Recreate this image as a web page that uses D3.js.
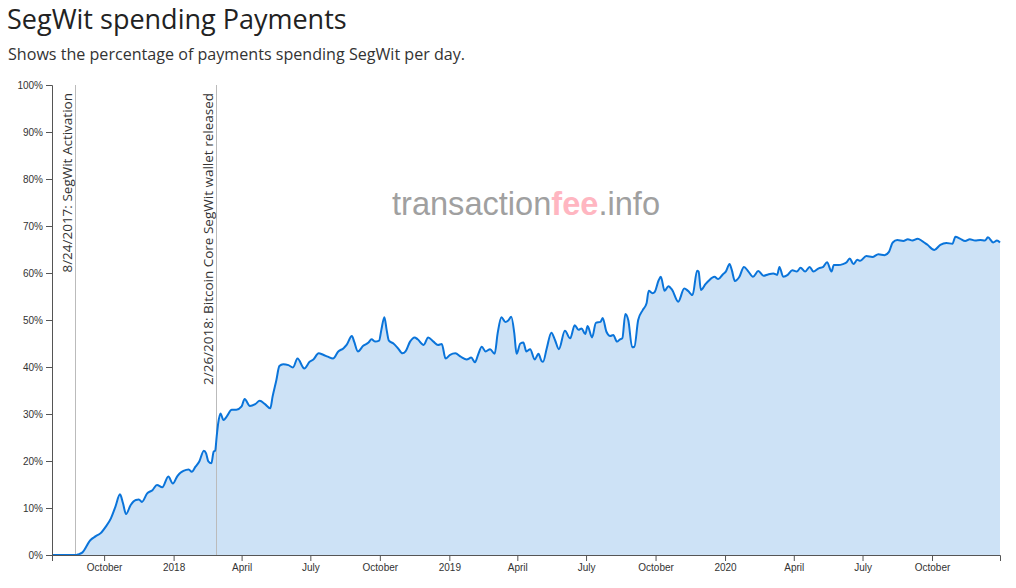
<!DOCTYPE html>
<html>
<head>
<meta charset="utf-8">
<script src="https://cdn.jsdelivr.net/npm/d3@7"></script>
<style>
  html, body { margin: 0; padding: 0; background: #fff; }
  svg { display: block; }
  .axis text { font-family: "Liberation Sans", Arial, sans-serif; font-size: 10px; fill: #333; }
  .axis path, .axis line { stroke: #555; }
</style>
</head>
<body>
<svg id="chart" width="1016" height="588"></svg>
<script>
const title = "SegWit spending Payments";
const subtitle = "Shows the percentage of payments spending SegWit per day.";

const dates = [
  "2017-07-24","2017-08-24","2017-08-27","2017-09-02","2017-09-13","2017-09-20","2017-09-26","2017-10-03","2017-10-10","2017-10-16",
  "2017-10-22","2017-10-26","2017-10-30","2017-11-05","2017-11-12","2017-11-16","2017-11-20","2017-11-27","2017-12-04","2017-12-10",
  "2017-12-17","2017-12-25","2017-12-31","2018-01-06","2018-01-10","2018-01-14","2018-01-21","2018-01-25","2018-01-30","2018-02-04",
  "2018-02-10","2018-02-13","2018-02-16","2018-02-20","2018-02-23","2018-02-25","2018-02-27","2018-03-01","2018-03-04","2018-03-08",
  "2018-03-12","2018-03-19","2018-03-25","2018-04-01","2018-04-05","2018-04-12","2018-04-19","2018-04-25","2018-05-02","2018-05-09",
  "2018-05-12","2018-05-17","2018-05-21","2018-05-26","2018-06-02","2018-06-08","2018-06-14","2018-06-23","2018-06-30","2018-07-05",
  "2018-07-12","2018-07-18","2018-07-24","2018-07-31","2018-08-07","2018-08-14","2018-08-18","2018-08-25","2018-08-28","2018-09-02",
  "2018-09-09","2018-09-16","2018-09-20","2018-09-25","2018-09-30","2018-10-03","2018-10-07","2018-10-10","2018-10-13","2018-10-19",
  "2018-10-25","2018-10-31","2018-11-04","2018-11-10","2018-11-16","2018-11-20","2018-11-28","2018-12-04","2018-12-11","2018-12-17",
  "2018-12-22","2018-12-27","2019-01-02","2019-01-09","2019-01-16","2019-01-24","2019-01-30","2019-02-04","2019-02-08","2019-02-13",
  "2019-02-18","2019-02-24","2019-03-02","2019-03-06","2019-03-11","2019-03-16","2019-03-20","2019-03-24","2019-03-28","2019-03-31",
  "2019-04-05","2019-04-09","2019-04-13","2019-04-18","2019-04-24","2019-04-29","2019-05-03","2019-05-05","2019-05-10","2019-05-16",
  "2019-05-21","2019-05-26","2019-06-03","2019-06-10","2019-06-16","2019-06-21","2019-06-25","2019-06-30","2019-07-03","2019-07-09",
  "2019-07-14","2019-07-20","2019-07-23","2019-07-28","2019-08-02","2019-08-06","2019-08-11","2019-08-15","2019-08-18","2019-08-22",
  "2019-08-26","2019-08-31","2019-09-03","2019-09-08","2019-09-14","2019-09-19","2019-09-22","2019-09-27","2019-09-30","2019-10-05",
  "2019-10-08","2019-10-13","2019-10-18","2019-10-23","2019-10-31","2019-11-08","2019-11-13","2019-11-19","2019-11-25","2019-11-27",
  "2019-11-30","2019-12-06","2019-12-10","2019-12-18","2019-12-23","2019-12-29","2020-01-02","2020-01-07","2020-01-10","2020-01-14",
  "2020-01-20","2020-01-26","2020-02-01","2020-02-07","2020-02-14","2020-02-21","2020-02-27","2020-03-05","2020-03-10","2020-03-13",
  "2020-03-18","2020-03-24","2020-03-30","2020-04-05","2020-04-10","2020-04-16","2020-04-22","2020-04-27","2020-05-04","2020-05-10",
  "2020-05-15","2020-05-21","2020-05-24","2020-05-30","2020-06-05","2020-06-10","2020-06-14","2020-06-19","2020-06-24","2020-06-28",
  "2020-07-06","2020-07-14","2020-07-22","2020-07-30","2020-08-05","2020-08-10","2020-08-16","2020-08-24","2020-08-30","2020-09-05",
  "2020-09-12","2020-09-18","2020-09-25","2020-10-04","2020-10-12","2020-10-20","2020-10-28","2020-11-01","2020-11-07","2020-11-14",
  "2020-11-20","2020-11-27","2020-12-04","2020-12-10","2020-12-14","2020-12-21","2020-12-26","2020-12-30"
];

const segwitShare = [
  0,0,0.1,0.5,3.2,4.0,4.6,6.0,7.8,10.3,
  12.9,11.0,8.7,10.6,11.7,11.8,11.3,13.1,13.8,14.9,
  14.4,16.7,15.2,16.8,17.5,17.9,18.2,17.7,18.8,19.9,
  22.2,21.6,19.9,19.5,22.0,22.2,25.2,28.0,30.1,28.7,
  29.4,30.9,30.9,31.6,33.2,31.7,32.1,32.8,32.1,31.2,
  33.7,37.2,40.2,40.6,40.4,39.9,41.8,39.7,41.1,41.6,
  42.9,42.6,42.2,41.8,43.3,44.0,44.7,46.6,45.4,43.3,
  44.5,45.2,45.9,45.4,45.6,47.9,50.6,47.9,45.6,45.0,
  44.0,42.9,43.3,45.4,46.3,45.9,44.7,46.3,45.4,44.7,
  44.9,41.8,42.6,42.9,42.2,41.6,42.0,41.0,42.6,44.3,
  43.3,43.8,42.8,47.2,50.6,49.6,49.9,50.7,47.2,42.8,
  45.0,45.2,43.3,43.8,41.6,42.8,41.3,41.1,44.0,47.3,
  45.7,43.8,47.7,46.1,48.9,47.9,48.2,47.0,48.7,46.3,
  49.4,49.6,50.4,47.5,46.6,46.8,45.4,45.9,46.1,51.3,
  49.9,44.2,44.3,50.0,52.1,53.5,56.2,55.7,56.0,58.4,
  59.2,56.2,57.2,56.4,53.9,56.7,56.2,55.3,60.5,60.3,
  56.4,57.6,58.3,59.2,58.7,59.7,60.3,61.9,60.6,58.3,
  59.2,61.3,60.3,59.2,60.4,59.4,59.7,59.9,59.6,61.3,
  59.2,59.6,60.6,60.3,61.1,60.3,61.3,60.3,61.0,61.3,
  62.3,60.3,61.7,61.7,61.9,62.3,63.1,61.9,62.8,62.6,
  63.6,63.4,64.0,63.8,64.5,66.5,67.0,66.8,67.2,66.9,
  67.3,66.8,66.0,64.9,66.0,66.4,66.2,67.7,67.3,66.8,
  67.2,66.9,67.0,66.9,67.6,66.5,66.9,66.5
];

const eventDates = ["2017-08-24", "2018-02-26"];
const eventLabels = ["8/24/2017: SegWit Activation", "2/26/2018: Bitcoin Core SegWit wallet released"];
const yTicks = [0, 10, 20, 30, 40, 50, 60, 70, 80, 90, 100];

const parse = d3.timeParse("%Y-%m-%d");
const data = dates.map((d, i) => ({ date: parse(d), value: segwitShare[i] }));

const W = 1016, H = 588;
const margin = { top: 85, right: 16, bottom: 33, left: 52 };
const svg = d3.select("#chart");

svg.append("text").attr("x", 7).attr("y", 29)
  .attr("font-family", "'Open Sans', 'Noto Sans', sans-serif")
  .attr("font-size", 27).attr("fill", "#222").text(title);
svg.append("text").attr("x", 8).attr("y", 60)
  .attr("font-family", "'Open Sans', 'Noto Sans', sans-serif")
  .attr("font-size", 16.1).attr("fill", "#333").text(subtitle);

const x = d3.scaleTime()
  .domain(d3.extent(data, d => d.date))
  .range([margin.left, W - margin.right]);
const y = d3.scaleLinear().domain([0, 100]).range([H - margin.bottom, margin.top]);

// watermark
const wm = svg.append("text")
  .attr("x", (margin.left + W - margin.right) / 2).attr("y", 215)
  .attr("text-anchor", "middle")
  .attr("font-family", "'Liberation Sans', Arial, sans-serif")
  .attr("font-size", 32.6).attr("fill", "#a0a0a0");
wm.append("tspan").text("transaction");
wm.append("tspan").attr("fill", "#ffb6c1").attr("font-weight", "bold").text("fee");
wm.append("tspan").text(".info");

const area = d3.area().curve(d3.curveMonotoneX)
  .x(d => x(d.date)).y0(y(0)).y1(d => y(d.value));
const line = d3.line().curve(d3.curveMonotoneX)
  .x(d => x(d.date)).y(d => y(d.value));

svg.append("path").datum(data).attr("d", area).attr("fill", "#cde2f6");

// event markers
eventDates.forEach((d, i) => {
  const ex = Math.round(x(parse(d))) + 0.5;
  svg.append("line").attr("x1", ex).attr("x2", ex)
    .attr("y1", y(100)).attr("y2", y(0))
    .attr("stroke", "#bbb").attr("stroke-width", 1);
  svg.append("text")
    .attr("transform", `translate(${ex - 3.5},${y(100) + 8}) rotate(-90)`)
    .attr("text-anchor", "end")
    .attr("font-family", "'Open Sans', 'Noto Sans', sans-serif")
    .attr("font-size", 13.5).attr("fill", "#333")
    .text(eventLabels[i]);
});

svg.append("path").datum(data).attr("d", line)
  .attr("fill", "none").attr("stroke", "#0a74da").attr("stroke-width", 2);

svg.append("g").attr("class", "axis")
  .attr("transform", `translate(0,${H - margin.bottom})`)
  .call(d3.axisBottom(x).ticks(d3.timeMonth.every(3)));

svg.append("g").attr("class", "axis")
  .attr("transform", `translate(${margin.left},0)`)
  .call(d3.axisLeft(y).tickValues(yTicks).tickFormat(d => d + "%"));
</script>
</body>
</html>
